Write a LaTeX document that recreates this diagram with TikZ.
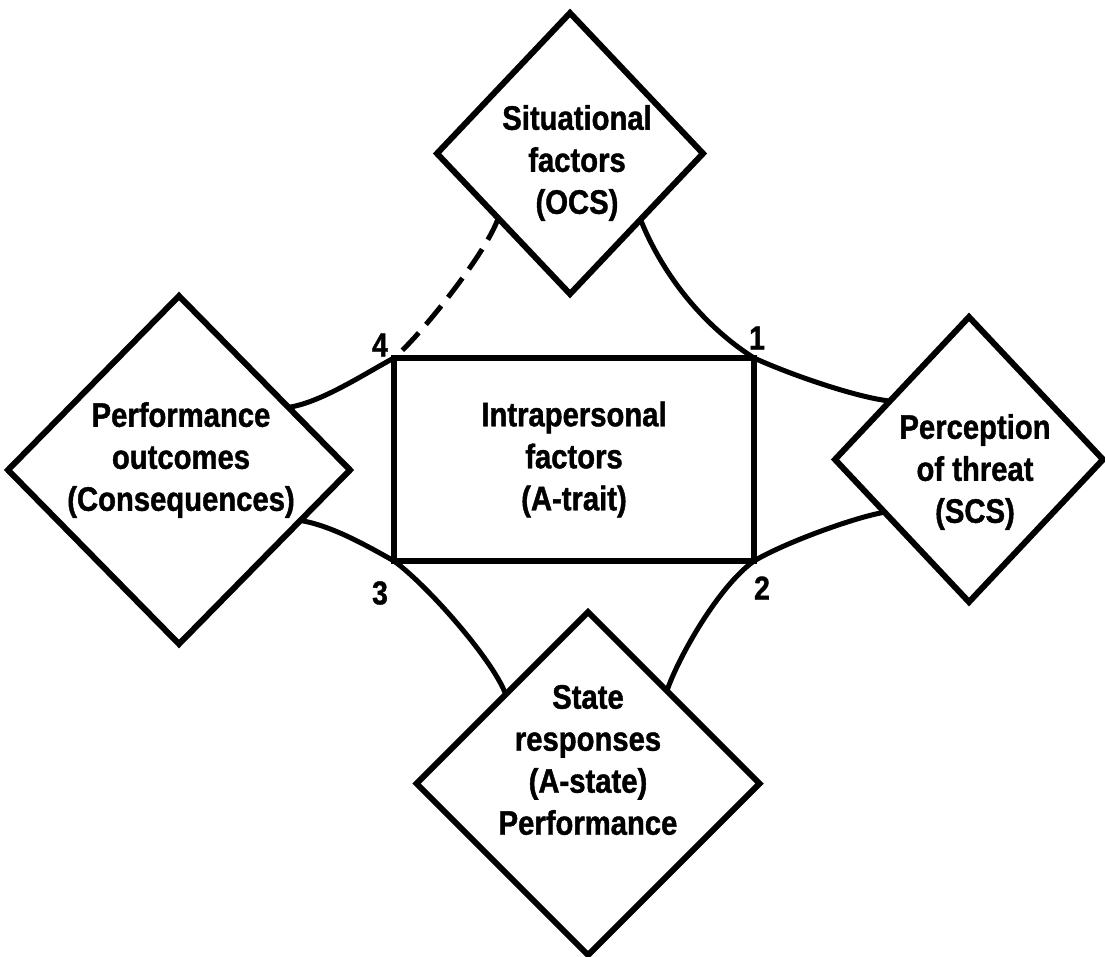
\documentclass[tikz,border=0pt]{standalone}
\usepackage{fontspec}
\setmainfont{Liberation Sans}[FakeStretch=0.86,FakeBold=1.2]
\usetikzlibrary{shapes.geometric,calc}
\begin{document}
\begin{tikzpicture}[x=1pt,y=-1pt,
  box/.style={draw, line width=6pt, inner sep=0pt, outer sep=0pt},
  factor/.style={box, diamond},
  caption/.style={align=center, font=\fontsize{34}{42}\selectfont\bfseries, inner sep=0pt},
  cornerno/.style={font=\fontsize{33}{38}\selectfont\bfseries, inner sep=0pt},
  link/.style={line width=5pt},
  weak/.style={link, dash pattern=on 24pt off 11pt, shorten >=10pt}
]
\useasboundingbox (0,0) rectangle (1105,957);

% the five factors
\node[factor, minimum width=266pt, minimum height=281pt] (sit) at (570,153.5) {};
\node[factor, minimum width=342pt, minimum height=348pt] (out) at (179,470) {};
\node[factor, minimum width=268pt, minimum height=285pt] (thr) at (969,459.5) {};
\node[factor, minimum width=343pt, minimum height=343pt] (st) at (588,783.5) {};
\node[box, caption, minimum width=360pt, minimum height=203pt] (trait) at (574,459.5)
  {Intrapersonal\\factors\\(A-trait)};

% captions of the diamonds
\node[caption] (sitT) at (577,163) {Situational\\factors\\(OCS)};
\node[caption] (outT) at (181,460) {Performance\\outcomes\\(Consequences)};
\node[caption] (thrT) at (975,472) {Perception\\of threat\\(SCS)};
\node[caption] (stT) at (588,760) {State\\responses\\(A-state)\\Performance};

% points where the links meet the diamonds
\coordinate (s1) at ($(sit.south)!0.53!(sit.east)$);
\coordinate (s4) at ($(sit.south)!0.54!(sit.west)$);
\coordinate (t1) at ($(thr.west)!0.41!(thr.north)$);
\coordinate (t2) at ($(thr.west)!0.37!(thr.south)$);
\coordinate (o4) at ($(out.east)!0.36!(out.north)$);
\coordinate (o3) at ($(out.east)!0.29!(out.south)$);
\coordinate (b3) at ($(st.north)!0.48!(st.west)$);
\coordinate (b2) at ($(st.north)!0.46!(st.east)$);

% links from the corners of the central box
\draw[link] (trait.north east) .. controls +(-55,-35) and +(20,50) .. (s1);
\draw[link] (trait.north east) .. controls +(35,16) and +(-35,-4) .. (t1);
\draw[link] (trait.south east) .. controls +(30,-18) and +(-30,5) .. (t2);
\draw[link] (trait.south east) .. controls +(-35,25) and +(12,-35) .. (b2);
\draw[link] (trait.south west) .. controls +(-30,-17) and +(30,5) .. (o3);
\draw[link] (trait.south west) .. controls +(33,24) and +(-13,-35) .. (b3);
\draw[link] (trait.north west) .. controls +(-30,16) and +(33,-5) .. (o4);
\draw[weak] (s4) .. controls +(-12,35) and +(30,-28) .. (trait.north west);

% corner numbers
\node[cornerno] (n1) at (757,338) {1};
\node[cornerno] (n2) at (762,588) {2};
\node[cornerno] (n3) at (380,593) {3};
\node[cornerno] (n4) at (380,345) {4};
\end{tikzpicture}
\end{document}
